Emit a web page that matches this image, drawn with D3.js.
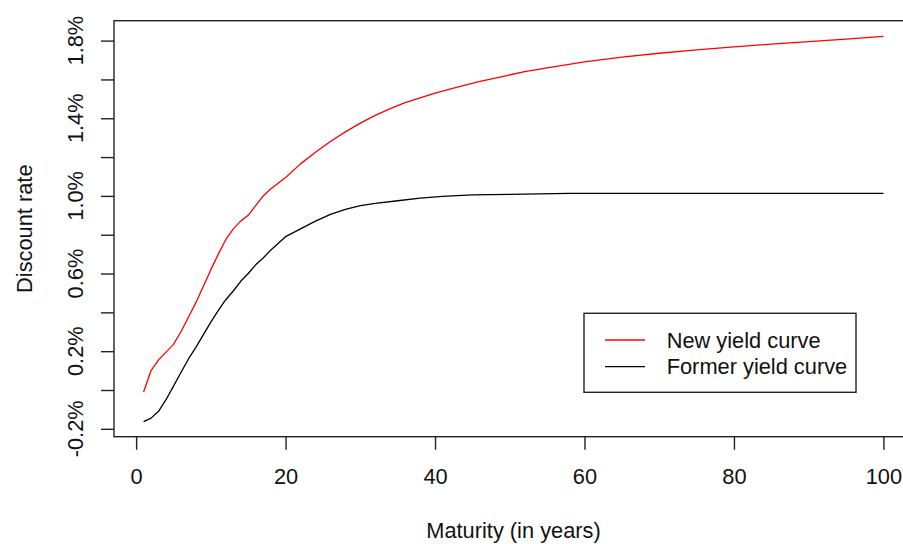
<!DOCTYPE html>
<html>
<head>
<meta charset="utf-8">
<script src="https://cdn.jsdelivr.net/npm/d3@7"></script>
<style>
  html, body { margin: 0; padding: 0; background: #fff; }
  svg { display: block; font-family: "Liberation Sans", Arial, sans-serif; }
</style>
</head>
<body>
<svg id="chart" width="903" height="544"></svg>
<script>
// Maturities (years) and discount rates (%) for the two curves
const newMaturity = [1,2,3,4,5,6,7,8,9,10,11,12,13,14,15,16,17,18,19,20,22,24,26,28,30,32,34,36,38,40,43,46,49,52,55,60,65,70,75,80,85,90,95,100];
const newRate = [-0.01,0.10,0.155,0.195,0.235,0.30,0.375,0.45,0.535,0.62,0.70,0.775,0.83,0.87,0.90,0.95,1.00,1.035,1.065,1.095,1.165,1.225,1.28,1.33,1.375,1.415,1.45,1.48,1.505,1.53,1.56,1.59,1.615,1.64,1.66,1.69,1.715,1.735,1.752,1.768,1.782,1.795,1.808,1.822];

const formerMaturity = [1,2,3,4,5,6,7,8,9,10,11,12,13,14,15,16,17,18,19,20,22,24,26,28,30,32,35,38,41,45,50,58,70,85,100];
const formerRate = [-0.163,-0.145,-0.11,-0.05,0.02,0.09,0.16,0.22,0.285,0.35,0.41,0.465,0.51,0.56,0.60,0.645,0.68,0.72,0.755,0.79,0.83,0.87,0.905,0.93,0.95,0.962,0.975,0.988,0.998,1.005,1.008,1.013,1.013,1.013,1.013];

const xTicks = [0,20,40,60,80,100];
const yTicks = [-0.2,0,0.2,0.4,0.6,0.8,1.0,1.2,1.4,1.6,1.8];
const yLabelTicks = [-0.2,0.2,0.6,1.0,1.4,1.8];

const seriesNames = ["New yield curve", "Former yield curve"];
const seriesColors = ["#ff0000", "#000000"];

const FONT = 21.8;
const svg = d3.select("#chart");

// Plot region (R-style padded data range)
const plot = { left: 114, right: 913, top: 20.7, bottom: 436.7 };

const x = d3.scaleLinear().domain([-2.96, 103.96]).range([plot.left, plot.right]);
const y = d3.scaleLinear().domain([-0.2406, 1.9026]).range([plot.bottom, plot.top]);

// Curves
const line = d3.line().x(d => x(d[0])).y(d => y(d[1]));
const series = [
  d3.zip(newMaturity, newRate),
  d3.zip(formerMaturity, formerRate)
];
svg.append("g").selectAll("path")
  .data(series)
  .join("path")
  .attr("d", line)
  .attr("fill", "none")
  .attr("stroke", (d, i) => seriesColors[i])
  .attr("stroke-width", 1.3)
  .attr("stroke-linejoin", "round");

// Plot frame
svg.append("rect")
  .attr("x", plot.left).attr("y", plot.top)
  .attr("width", plot.right - plot.left).attr("height", plot.bottom - plot.top)
  .attr("fill", "none").attr("stroke", "#222").attr("stroke-width", 1.4);

// X axis
const xAxis = svg.append("g")
  .attr("transform", `translate(0,${plot.bottom})`)
  .call(d3.axisBottom(x).tickValues(xTicks).tickSize(13).tickSizeOuter(0).tickPadding(19)
        .tickFormat(d3.format("d")));
xAxis.select(".domain").remove();
xAxis.selectAll(".tick line").attr("stroke", "#222").attr("stroke-width", 1.4);
xAxis.selectAll(".tick text")
  .attr("font-size", FONT).attr("fill", "#111")
  .attr("font-family", "Liberation Sans, Arial, sans-serif");

// Y axis
const yAxis = svg.append("g")
  .attr("transform", `translate(${plot.left},0)`)
  .call(d3.axisLeft(y).tickValues(yTicks).tickSize(13).tickSizeOuter(0).tickFormat(""));
yAxis.select(".domain").remove();
yAxis.selectAll(".tick line").attr("stroke", "#222").attr("stroke-width", 1.4);

svg.append("g").selectAll("text")
  .data(yLabelTicks)
  .join("text")
  .attr("transform", d => `translate(83,${y(d)}) rotate(-90)`)
  .attr("text-anchor", "middle")
  .attr("font-size", FONT)
  .attr("fill", "#111")
  .text(d => d.toFixed(1) + "%");

// Axis titles
svg.append("text")
  .attr("x", (plot.left + plot.right) / 2).attr("y", 538)
  .attr("text-anchor", "middle").attr("font-size", FONT).attr("fill", "#111")
  .text("Maturity (in years)");

svg.append("text")
  .attr("transform", `translate(32,${(plot.top + plot.bottom) / 2}) rotate(-90)`)
  .attr("text-anchor", "middle").attr("font-size", FONT).attr("fill", "#111")
  .text("Discount rate");

// Legend
const legend = svg.append("g").attr("transform", "translate(584,313.3)");
legend.append("rect")
  .attr("width", 272).attr("height", 79)
  .attr("fill", "#fff").attr("stroke", "#222").attr("stroke-width", 1.4);
const items = legend.selectAll("g.item")
  .data(seriesNames)
  .join("g")
  .attr("class", "item")
  .attr("transform", (d, i) => `translate(0,${26.7 + i * 26.7})`);
items.append("line")
  .attr("x1", 21).attr("x2", 61)
  .attr("stroke", (d, i) => seriesColors[i]).attr("stroke-width", 1.3);
items.append("text")
  .attr("x", 82.7).attr("dy", "0.35em")
  .attr("font-size", FONT).attr("fill", "#111")
  .text(d => d);
</script>
</body>
</html>
